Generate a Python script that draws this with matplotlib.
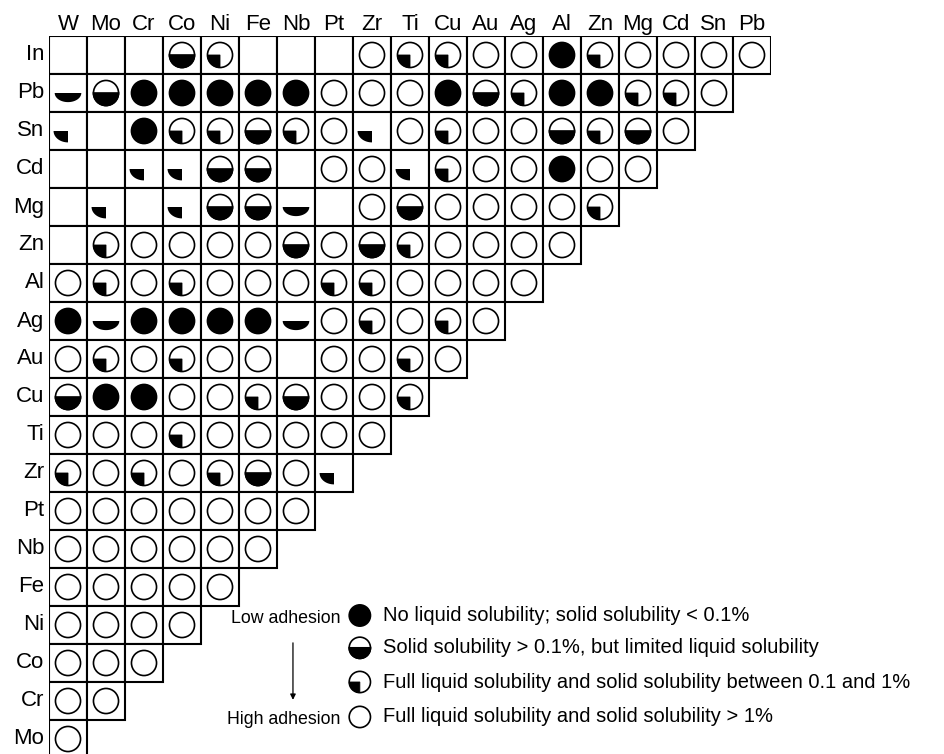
import numpy as np
import matplotlib.pyplot as plt
from matplotlib.patches import Circle, Wedge, Rectangle, Polygon

plt.rcParams['font.family'] = ['Liberation Sans', 'DejaVu Sans']

# metal pairs: F = full circle, H = half, Q = quarter, O = open circle,
# h / q = bare half / quarter mark without outline, '.' = no data
col_names = ["W", "Mo", "Cr", "Co", "Ni", "Fe", "Nb", "Pt", "Zr", "Ti",
             "Cu", "Au", "Ag", "Al", "Zn", "Mg", "Cd", "Sn", "Pb"]
row_names = ["In", "Pb", "Sn", "Cd", "Mg", "Zn", "Al", "Ag", "Au", "Cu",
             "Ti", "Zr", "Pt", "Nb", "Fe", "Ni", "Co", "Cr", "Mo"]

row_in = "...HQ...OQQOOFQOOOO"
row_pb = "hHFFFFFOOOFHQFFQQO"
row_sn = "q.FQQHQOqOQOOHQHO"
row_cd = "..qqHH.OOqQOOFOO"
row_mg = ".q.qHHh.OHOOOOQ"
row_zn = ".QOOOOHOHQOOOO"
row_al = "OQOQOOOQQOOOO"
row_ag = "FhFFFFhOQOQO"
row_au = "OQOQOO.OOQO"
row_cu = "HFFOOQHOOQ"
row_ti = "OOOQOOOOO"
row_zr = "QOQOQHOq"
row_pt = "OOOOOOO"
row_nb = "OOOOOO"
row_fe = "OOOOO"
row_ni = "OOOO"
row_co = "OOO"
row_cr = "OO"
row_mo = "O"

grid = [row_in, row_pb, row_sn, row_cd, row_mg, row_zn, row_al, row_ag,
        row_au, row_cu, row_ti, row_zr, row_pt, row_nb, row_fe, row_ni,
        row_co, row_cr, row_mo]

legend_codes = ["F", "H", "Q", "O"]
legend_labels = [
    "No liquid solubility; solid solubility < 0.1%",
    "Solid solubility > 0.1%, but limited liquid solubility",
    "Full liquid solubility and solid solubility between 0.1 and 1%",
    "Full liquid solubility and solid solubility > 1%",
]


def draw_symbol(ax, x, y, code, r=0.33, lw=1.2):
    if code == "F":
        ax.add_patch(Circle((x, y), r, fc="black", ec="black", lw=lw))
    elif code == "O":
        ax.add_patch(Circle((x, y), r, fc="white", ec="black", lw=lw))
    elif code == "H":
        ax.add_patch(Circle((x, y), r, fc="white", ec="black", lw=lw))
        ax.add_patch(Wedge((x, y), r, 0, 180, fc="black", ec="black", lw=lw))
    elif code == "Q":
        ax.add_patch(Circle((x, y), r, fc="white", ec="black", lw=lw))
        ax.add_patch(Wedge((x, y), r, 90, 180, fc="black", ec="black", lw=0.6))
    elif code == "h":
        t = np.linspace(0, np.pi, 40)
        pts = np.column_stack([x + 0.35 * np.cos(t), y + 0.24 * np.sin(t)])
        ax.add_patch(Polygon(pts, closed=True, fc="black", ec="none"))
    elif code == "q":
        t = np.linspace(np.pi / 2, np.pi, 20)
        pts = np.column_stack([x + 0.38 * np.cos(t), y + 0.3 * np.sin(t)])
        pts = np.vstack([[x, y], pts])
        ax.add_patch(Polygon(pts, closed=True, fc="black", ec="none"))


fig = plt.figure(figsize=(9.44, 7.54), dpi=100)
ax = fig.add_axes([49 / 944, -4 / 754, 722 / 944, 722 / 754])
ax.set_xlim(0, 19)
ax.set_ylim(19, 0)
ax.axis("off")

for r, codes in enumerate(grid):
    for c, code in enumerate(codes):
        ax.add_patch(Rectangle((c, r), 1, 1, fc="white", ec="black", lw=1.5))
        draw_symbol(ax, c + 0.5, r + 0.5, code)
    ax.text(-0.12, r + 0.5, row_names[r], ha="right", va="center", fontsize=16)

for c, name in enumerate(col_names):
    ax.text(c + 0.5, -0.16, name, ha="center", va="baseline", fontsize=16)

# legend, ordered from low to high adhesion
leg_x = 8.18
leg_y = [15.25, 16.1, 17.0, 17.92]
for y, code, label in zip(leg_y, legend_codes, legend_labels):
    draw_symbol(ax, leg_x, y, code, r=0.28)
    ax.text(leg_x + 0.6, y, label, ha="left", va="center", fontsize=14.5)

ax.text(7.68, 15.32, "Low adhesion", ha="right", va="center", fontsize=12.8)
ax.text(7.68, 18.0, "High adhesion", ha="right", va="center", fontsize=12.8)
ax.annotate("", xy=(6.42, 17.47), xytext=(6.42, 15.97),
            arrowprops=dict(arrowstyle="-|>", lw=0.9, color="black",
                            mutation_scale=8, shrinkA=0, shrinkB=0))

fig.savefig("out.png", dpi=100)
